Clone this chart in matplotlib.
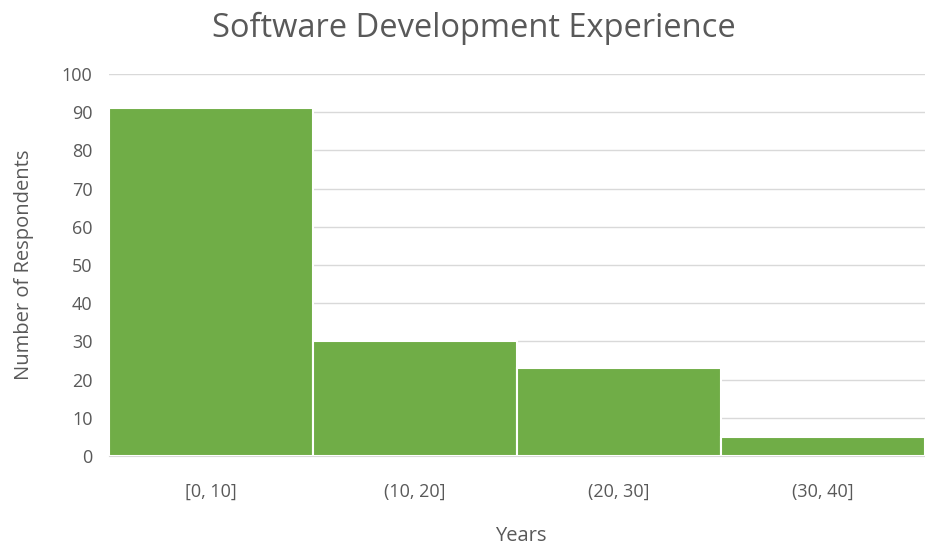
import matplotlib.pyplot as plt

# Datos
bins = ["[0, 10]", "(10, 20]", "(20, 30]", "(30, 40]"]
counts = [91, 30, 23, 5]
yticks = [0, 10, 20, 30, 40, 50, 60, 70, 80, 90, 100]

plt.rcParams['font.family'] = ['Open Sans', 'DejaVu Sans']
gris = "#595959"

fig = plt.figure(figsize=(9.25, 5.46), dpi=100)
ax = fig.add_axes([0.118, 0.165, 0.882, 0.6995])

x = list(range(len(bins)))
ax.bar(x, counts, width=1.0, color="#70AD47", edgecolor="white", linewidth=1.5, zorder=3)

ax.set_xlim(-0.5, len(bins) - 0.5)
ax.set_ylim(0, 100)
ax.set_yticks(yticks)
ax.set_xticks(x)
ax.set_xticklabels(bins)
ax.yaxis.grid(True, color="#D9D9D9", linewidth=1.0, zorder=0)
ax.set_axisbelow(True)

for s in ["top", "right", "left"]:
    ax.spines[s].set_visible(False)
ax.spines["bottom"].set_color("#D9D9D9")
ax.tick_params(axis="both", length=0, colors=gris, labelsize=13)
ax.tick_params(axis="x", pad=19)
ax.tick_params(axis="y", pad=12)

# Titulo y etiqueta X colocados como en la imagen
fig.text(0.512, 1 - 28 / 546, "Software Development Experience", fontsize=23.5,
         color=gris, ha="center", va="center")
fig.text(0.563, 1 - 536 / 546, "Years", fontsize=14.5, color=gris,
         ha="center", va="center")
ax.set_ylabel("Number of Respondents", fontsize=14.5, color=gris, labelpad=20)

fig.savefig("out.png", dpi=100)
